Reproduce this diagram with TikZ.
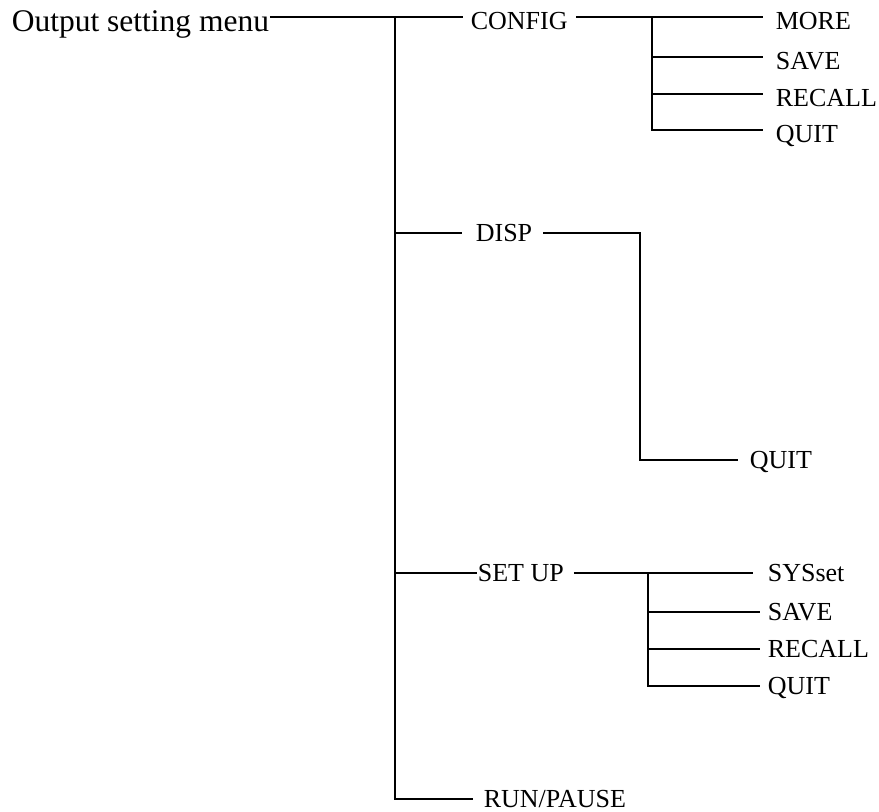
\documentclass[tikz,border=0pt]{standalone}
\usepackage{fontspec}
\setmainfont{Liberation Serif}
\usepackage{tikz}
\usetikzlibrary{positioning, calc}

\begin{document}
\begin{tikzpicture}[x=0.6pt, y=-0.6pt, line width=1pt,
    item/.style={anchor=west, inner sep=0pt, text height=10.3pt, text depth=0pt,
                 font=\fontsize{15.6}{18}\selectfont},
    upper/.style={text height=15.6pt},
    head/.style={anchor=west, inner sep=0pt, text height=18pt, text depth=0pt,
                 font=\fontsize{18.9}{22}\selectfont}
]
\useasboundingbox (0,0) rectangle (879,812);
\coordinate (top) at (395,17);
\coordinate (cj) at (652,17);
\coordinate (dj) at (640,233);
\coordinate (sj) at (648,573);
\node[head] (menu) at (11,17) {Output setting menu};
\node[item, upper] (cfg) at (470,17) {CONFIG};
\node[item, upper] (more) at (775,17) {MORE};
\node[item, upper] (csave) at (775,57) {SAVE};
\node[item, upper] (crecall) at (775,94) {RECALL};
\node[item, upper] (cquit) at (775,130) {QUIT};
\node[item] (disp) at (475,233) {DISP};
\node[item] (dquit) at (749,460) {QUIT};
\node[item] (setup) at (477,573) {SET UP};
\node[item] (sys) at (767,573) {SYSset};
\node[item] (ssave) at (767,612) {SAVE};
\node[item] (srecall) at (767,649) {RECALL};
\node[item] (squit) at (767,686) {QUIT};
\node[item] (run) at (483,799) {RUN/PAUSE};
\draw (menu.east) -- ([xshift=-4.2pt]cfg.west);
\draw (top) |- ([xshift=-6pt]run.west);
\draw (top |- disp.west) -- ([xshift=-7.8pt]disp.west);
\draw (top |- setup.west) -- (setup.west);
\draw ([xshift=4.8pt]cfg.east) -- ([xshift=-7.2pt]more.west);
\draw (cj) |- ([xshift=-7.2pt]cquit.west);
\draw (cj |- csave.west) -- ([xshift=-7.2pt]csave.west);
\draw (cj |- crecall.west) -- ([xshift=-7.2pt]crecall.west);
\draw ([xshift=6pt]disp.east) -- (dj) |- ([xshift=-6.6pt]dquit.west);
\draw ([xshift=5.5pt]setup.east) -- ([xshift=-8.4pt]sys.west);
\draw (sj) |- ([xshift=-4.2pt]squit.west);
\draw (sj |- ssave.west) -- ([xshift=-4.2pt]ssave.west);
\draw (sj |- srecall.west) -- ([xshift=-4.2pt]srecall.west);
\end{tikzpicture}
\end{document}
